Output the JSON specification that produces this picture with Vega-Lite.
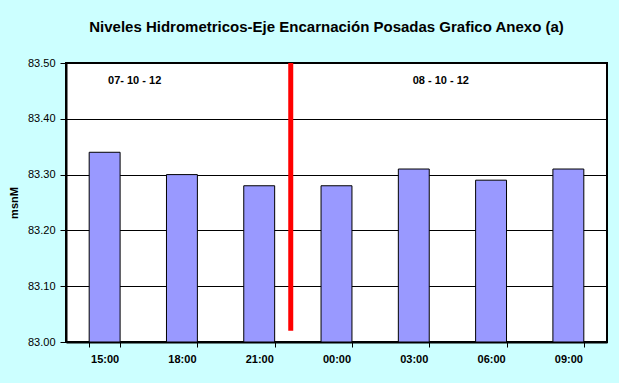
{
  "$schema": "https://vega.github.io/schema/vega-lite/v6.json",
  "width": 541,
  "height": 279,
  "autosize": {"type": "none"},
  "padding": {"left": 66, "top": 63, "right": 12, "bottom": 41},
  "background": "#CCFFFF",
  "title": {
    "text": "Niveles Hidrometricos-Eje Encarnación Posadas Grafico Anexo (a)",
    "font": "Liberation Sans",
    "fontSize": 15,
    "fontWeight": "bold",
    "color": "black",
    "anchor": "middle",
    "frame": "group",
    "offset": 22,
    "dx": -10
  },
  "config": {
    "font": "Liberation Sans",
    "view": {"fill": "white", "stroke": "black", "strokeWidth": 2}
  },
  "datasets": {
    "niveles": [
      {"hora": "15:00", "nivel": 83.34},
      {"hora": "18:00", "nivel": 83.30},
      {"hora": "21:00", "nivel": 83.28},
      {"hora": "00:00", "nivel": 83.28},
      {"hora": "03:00", "nivel": 83.31},
      {"hora": "06:00", "nivel": 83.29},
      {"hora": "09:00", "nivel": 83.31}
    ],
    "corte": [
      {"hora": "21:00", "nivel": 83.02, "hasta": 83.50}
    ],
    "fecha1": [
      {"hora": "15:00", "nivel": 83.467, "fecha": "07- 10 - 12"}
    ],
    "fecha2": [
      {"hora": "03:00", "nivel": 83.467, "fecha": "08 - 10 - 12"}
    ]
  },
  "encoding": {
    "y": {
      "field": "nivel",
      "type": "quantitative",
      "scale": {"domain": [83.0, 83.5], "nice": false, "zero": false},
      "axis": {
        "values": [83.0, 83.1, 83.2, 83.3, 83.4, 83.5],
        "format": ".2f",
        "grid": true,
        "gridColor": "black",
        "gridOpacity": 1,
        "gridWidth": 1,
        "tickColor": "black",
        "tickSize": 6,
        "labelPadding": 5,
        "labelFontSize": 11,
        "labelColor": "black",
        "domainColor": "black",
        "domainWidth": 2,
        "title": "msnM",
        "titleFontSize": 11,
        "titleFontWeight": "bold",
        "titleColor": "black",
        "titlePadding": 8
      }
    }
  },
  "layer": [
    {
      "data": {"name": "niveles"},
      "mark": {"type": "bar", "fill": "#9999FF", "stroke": "black", "strokeWidth": 1},
      "encoding": {
        "x": {
          "field": "hora",
          "type": "nominal",
          "sort": null,
          "scale": {"paddingInner": 0.6, "paddingOuter": 0.3},
          "axis": {
            "orient": "bottom",
            "title": null,
            "labelAngle": 0,
            "ticks": true,
            "tickBand": "extent",
            "tickSize": 5,
            "tickColor": "black",
            "labelPadding": 6,
            "labelFontSize": 11,
            "labelFontWeight": "bold",
            "labelColor": "black",
            "domainColor": "black",
            "domainWidth": 2
          }
        },
        "y2": {"datum": 83.0}
      }
    },
    {
      "data": {"name": "corte"},
      "mark": {"type": "rule", "color": "#FF0000", "strokeWidth": 5},
      "encoding": {
        "x": {"field": "hora", "type": "nominal", "sort": null, "bandPosition": 1.52},
        "y2": {"field": "hasta"}
      }
    },
    {
      "data": {"name": "fecha1"},
      "mark": {"type": "text", "fontSize": 11, "fontWeight": "bold", "color": "black", "dx": 30, "baseline": "middle"},
      "encoding": {
        "x": {"field": "hora", "type": "nominal", "sort": null},
        "text": {"field": "fecha"}
      }
    },
    {
      "data": {"name": "fecha2"},
      "mark": {"type": "text", "fontSize": 11, "fontWeight": "bold", "color": "black", "dx": 27, "baseline": "middle"},
      "encoding": {
        "x": {"field": "hora", "type": "nominal", "sort": null},
        "text": {"field": "fecha"}
      }
    }
  ]
}
